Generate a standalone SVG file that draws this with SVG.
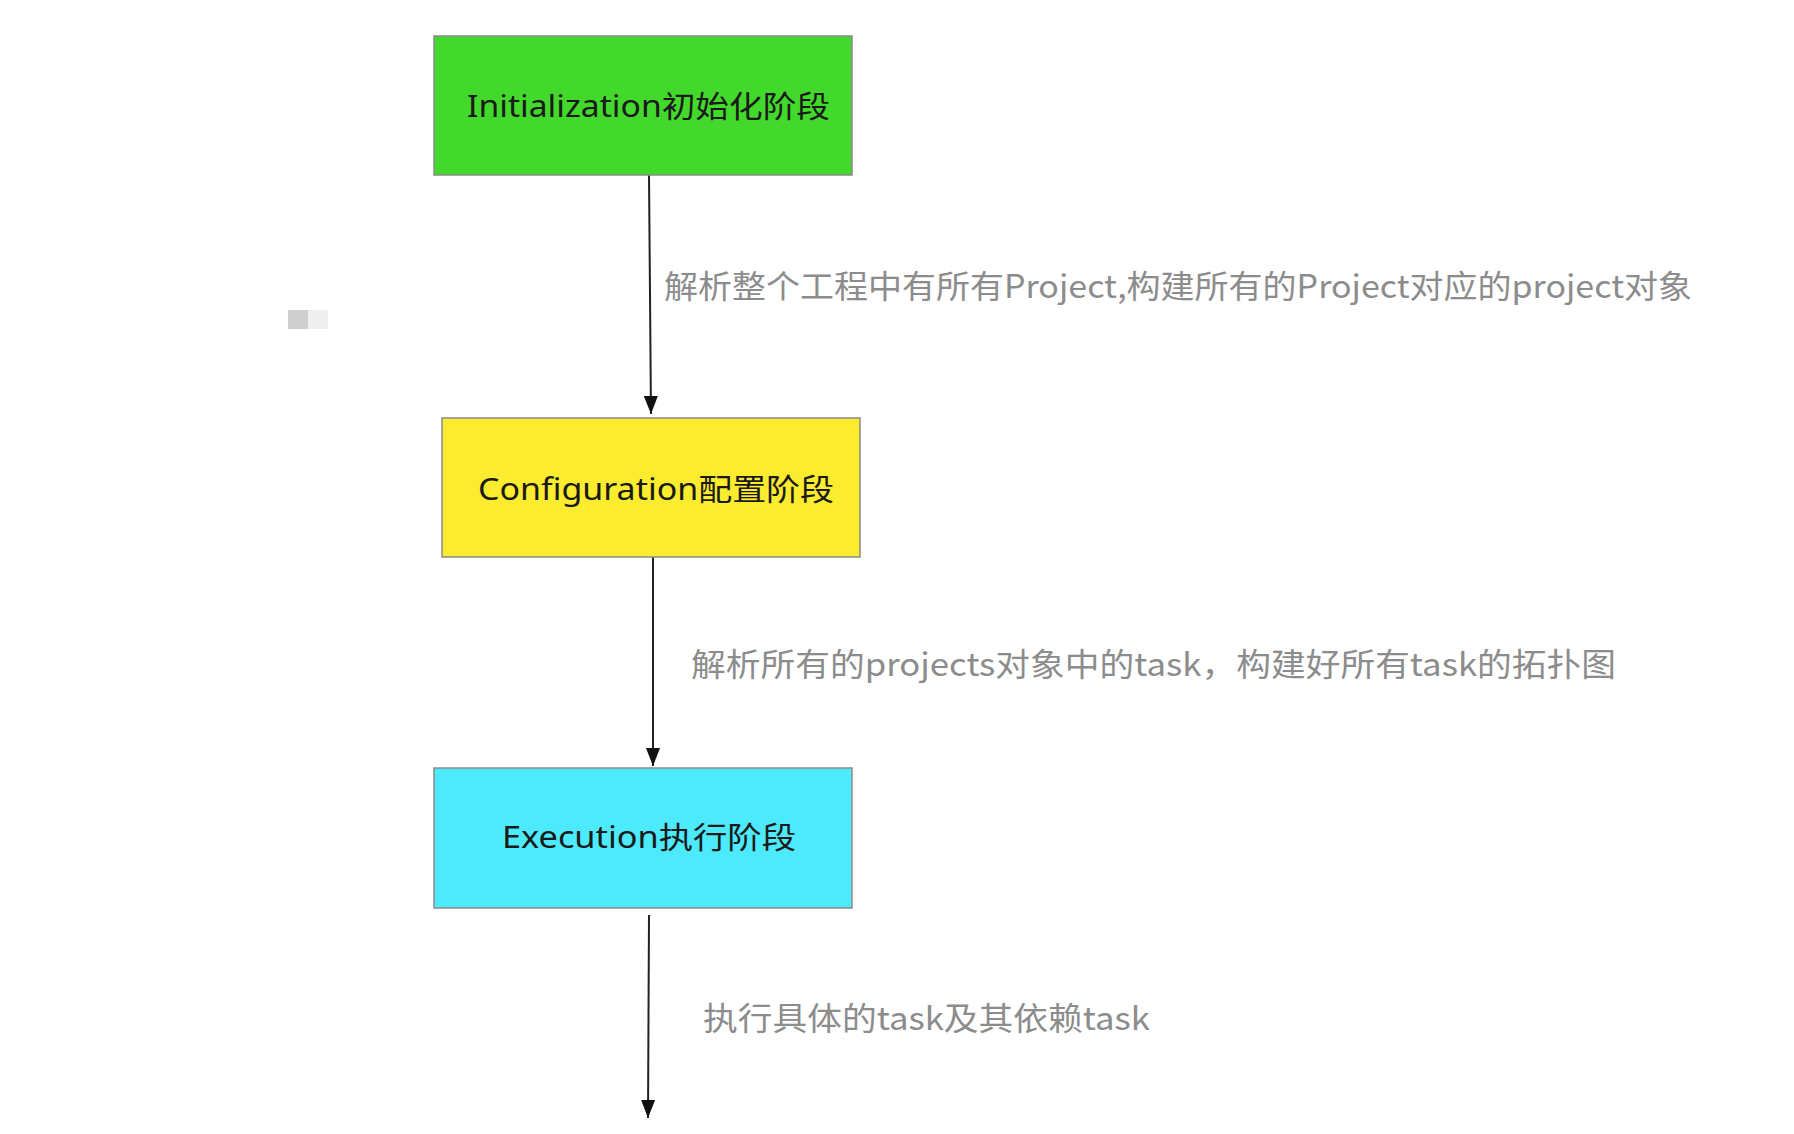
<svg xmlns="http://www.w3.org/2000/svg" width="1794" height="1134" viewBox="0 0 1794 1134">
<defs>
<style>
.box{stroke:#8a8a8a;stroke-width:1.5}
.nt{font-family:"Noto Sans","Noto Sans CJK SC",sans-serif;font-size:30px;fill:#1a1a1a}
.lb{font-family:"Noto Sans CJK SC","Noto Sans",sans-serif;font-size:32px;fill:#8c8c8c}
.ln{stroke:#222;stroke-width:2;fill:none}
</style>
<marker id="ah" viewBox="0 0 18 14" refX="18" refY="7" markerWidth="18" markerHeight="14" markerUnits="userSpaceOnUse" orient="auto">
<path d="M0,0 L18,7 L0,14 Z" fill="#111"/>
</marker>
</defs>
<rect width="1794" height="1134" fill="#ffffff"/>
<rect x="288" y="310" width="20" height="19" fill="#cfcfcf"/>
<rect x="308" y="310" width="20" height="19" fill="#efefef"/>
<g id="connectors">
<line class="ln" x1="649" y1="175" x2="651" y2="414" marker-end="url(#ah)"/>
<line class="ln" x1="653" y1="557" x2="653" y2="766" marker-end="url(#ah)"/>
<line class="ln" x1="649" y1="915" x2="648" y2="1118" marker-end="url(#ah)"/>
</g>
<g id="label1"><text class="lb" x="664" y="298" textLength="1028" lengthAdjust="spacingAndGlyphs">解析整个工程中有所有Project,构建所有的Project对应的project对象</text></g>
<g id="label2"><text class="lb" x="691" y="676" textLength="925" lengthAdjust="spacingAndGlyphs">解析所有的projects对象中的task，构建好所有task的拓扑图</text></g>
<g id="label3"><text class="lb" x="703" y="1030" textLength="447" lengthAdjust="spacingAndGlyphs">执行具体的task及其依赖task</text></g>
<g id="initialization">
<rect class="box" x="434" y="36" width="418" height="139" fill="#43d82c"/>
<text class="nt" x="467" y="117" textLength="363" lengthAdjust="spacingAndGlyphs">Initialization初始化阶段</text>
</g>
<g id="configuration">
<rect class="box" x="442" y="418" width="418" height="139" fill="#fcec2f" stroke="#b8ad6a"/>
<text class="nt" x="478" y="500" textLength="356" lengthAdjust="spacingAndGlyphs">Configuration配置阶段</text>
</g>
<g id="execution">
<rect class="box" x="434" y="768" width="418" height="140" fill="#4deafb"/>
<text class="nt" x="502" y="848" textLength="294" lengthAdjust="spacingAndGlyphs">Execution执行阶段</text>
</g>
</svg>
